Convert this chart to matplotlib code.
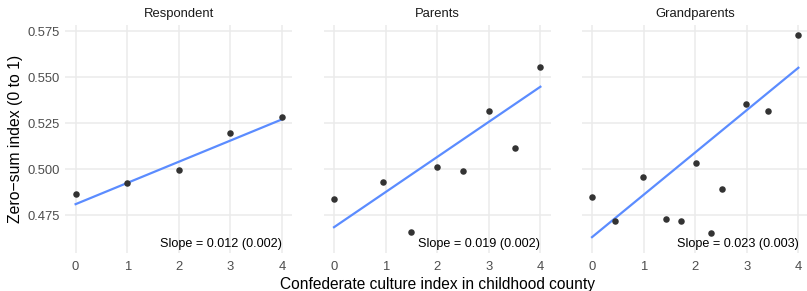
import matplotlib
matplotlib.use("Agg")
import matplotlib.pyplot as plt
import numpy as np

plt.rcParams["font.family"] = ["Liberation Sans", "DejaVu Sans"]

# values
panels = ["Respondent", "Parents", "Grandparents"]

resp_x = [0, 1, 2, 3, 4]
resp_y = [0.4866, 0.4926, 0.4996, 0.5199, 0.5282]

par_x = [0, 0.94, 1.5, 2.0, 2.5, 3.0, 3.5, 4.0]
par_y = [0.4838, 0.4933, 0.4660, 0.5011, 0.4991, 0.5318, 0.5117, 0.5555]

gp_x = [0, 0.45, 0.99, 1.44, 1.72, 2.01, 2.30, 2.51, 2.98, 3.42, 3.99]
gp_y = [0.4849, 0.4718, 0.4960, 0.4733, 0.4720, 0.5036, 0.4653, 0.4895,
        0.5353, 0.5318, 0.5728]

# fitted line ends (value at x=0 and x=4)
fit_ends = [(0.4811, 0.5271), (0.4686, 0.5448), (0.4632, 0.5551)]
slope_labels = ["Slope = 0.012 (0.002)", "Slope = 0.019 (0.002)",
                "Slope = 0.023 (0.003)"]

xs = [resp_x, par_x, gp_x]
ys = [resp_y, par_y, gp_y]

yticks = [0.475, 0.500, 0.525, 0.550, 0.575]
xticks = [0, 1, 2, 3, 4]

W, H = 807, 291
fig = plt.figure(figsize=(W / 100, H / 100), dpi=100)

lefts = [65.3, 323.7, 581.7]
pw = 227.0
top, bottom = 25, 253
grid_c = "#EBEBEB"

for i, name in enumerate(panels):
    ax = fig.add_axes([lefts[i] / W, (H - bottom) / H, pw / W, (bottom - top) / H])
    ax.set_xlim(-0.2, 4.2)
    ax.set_ylim(0.4546, 0.5783)
    ax.set_xticks(xticks)
    ax.set_yticks(yticks)
    ax.grid(True, color=grid_c, linewidth=1.1)
    ax.set_axisbelow(True)
    for s in ax.spines.values():
        s.set_visible(False)
    ax.tick_params(length=0, labelsize=9.4, colors="#4D4D4D", pad=4)
    ax.tick_params(axis="x", pad=6)
    if i == 0:
        ax.set_yticklabels([f"{v:.3f}" for v in yticks])
        ax.set_ylabel("Zero\u2212sum index (0 to 1)", fontsize=11.3, labelpad=3)
    else:
        ax.set_yticklabels([])
    ax.set_title(name, fontsize=9.4, color="#1A1A1A", pad=6)

    a, b = fit_ends[i]
    ax.plot([0, 4], [a, b], color="#5B8CFF", linewidth=1.6, zorder=2)
    ax.scatter(xs[i], ys[i], s=22, color="#333333", zorder=3, linewidths=0)
    ax.text(4, 0.4595, slope_labels[i], ha="right", va="center",
            fontsize=9.1, color="black")

fig.text((lefts[0] + lefts[2] + pw) / 2 / W, 7 / H,
         "Confederate culture index in childhood county",
         ha="center", va="center", fontsize=11.2)

fig.savefig("out.png", dpi=100)
